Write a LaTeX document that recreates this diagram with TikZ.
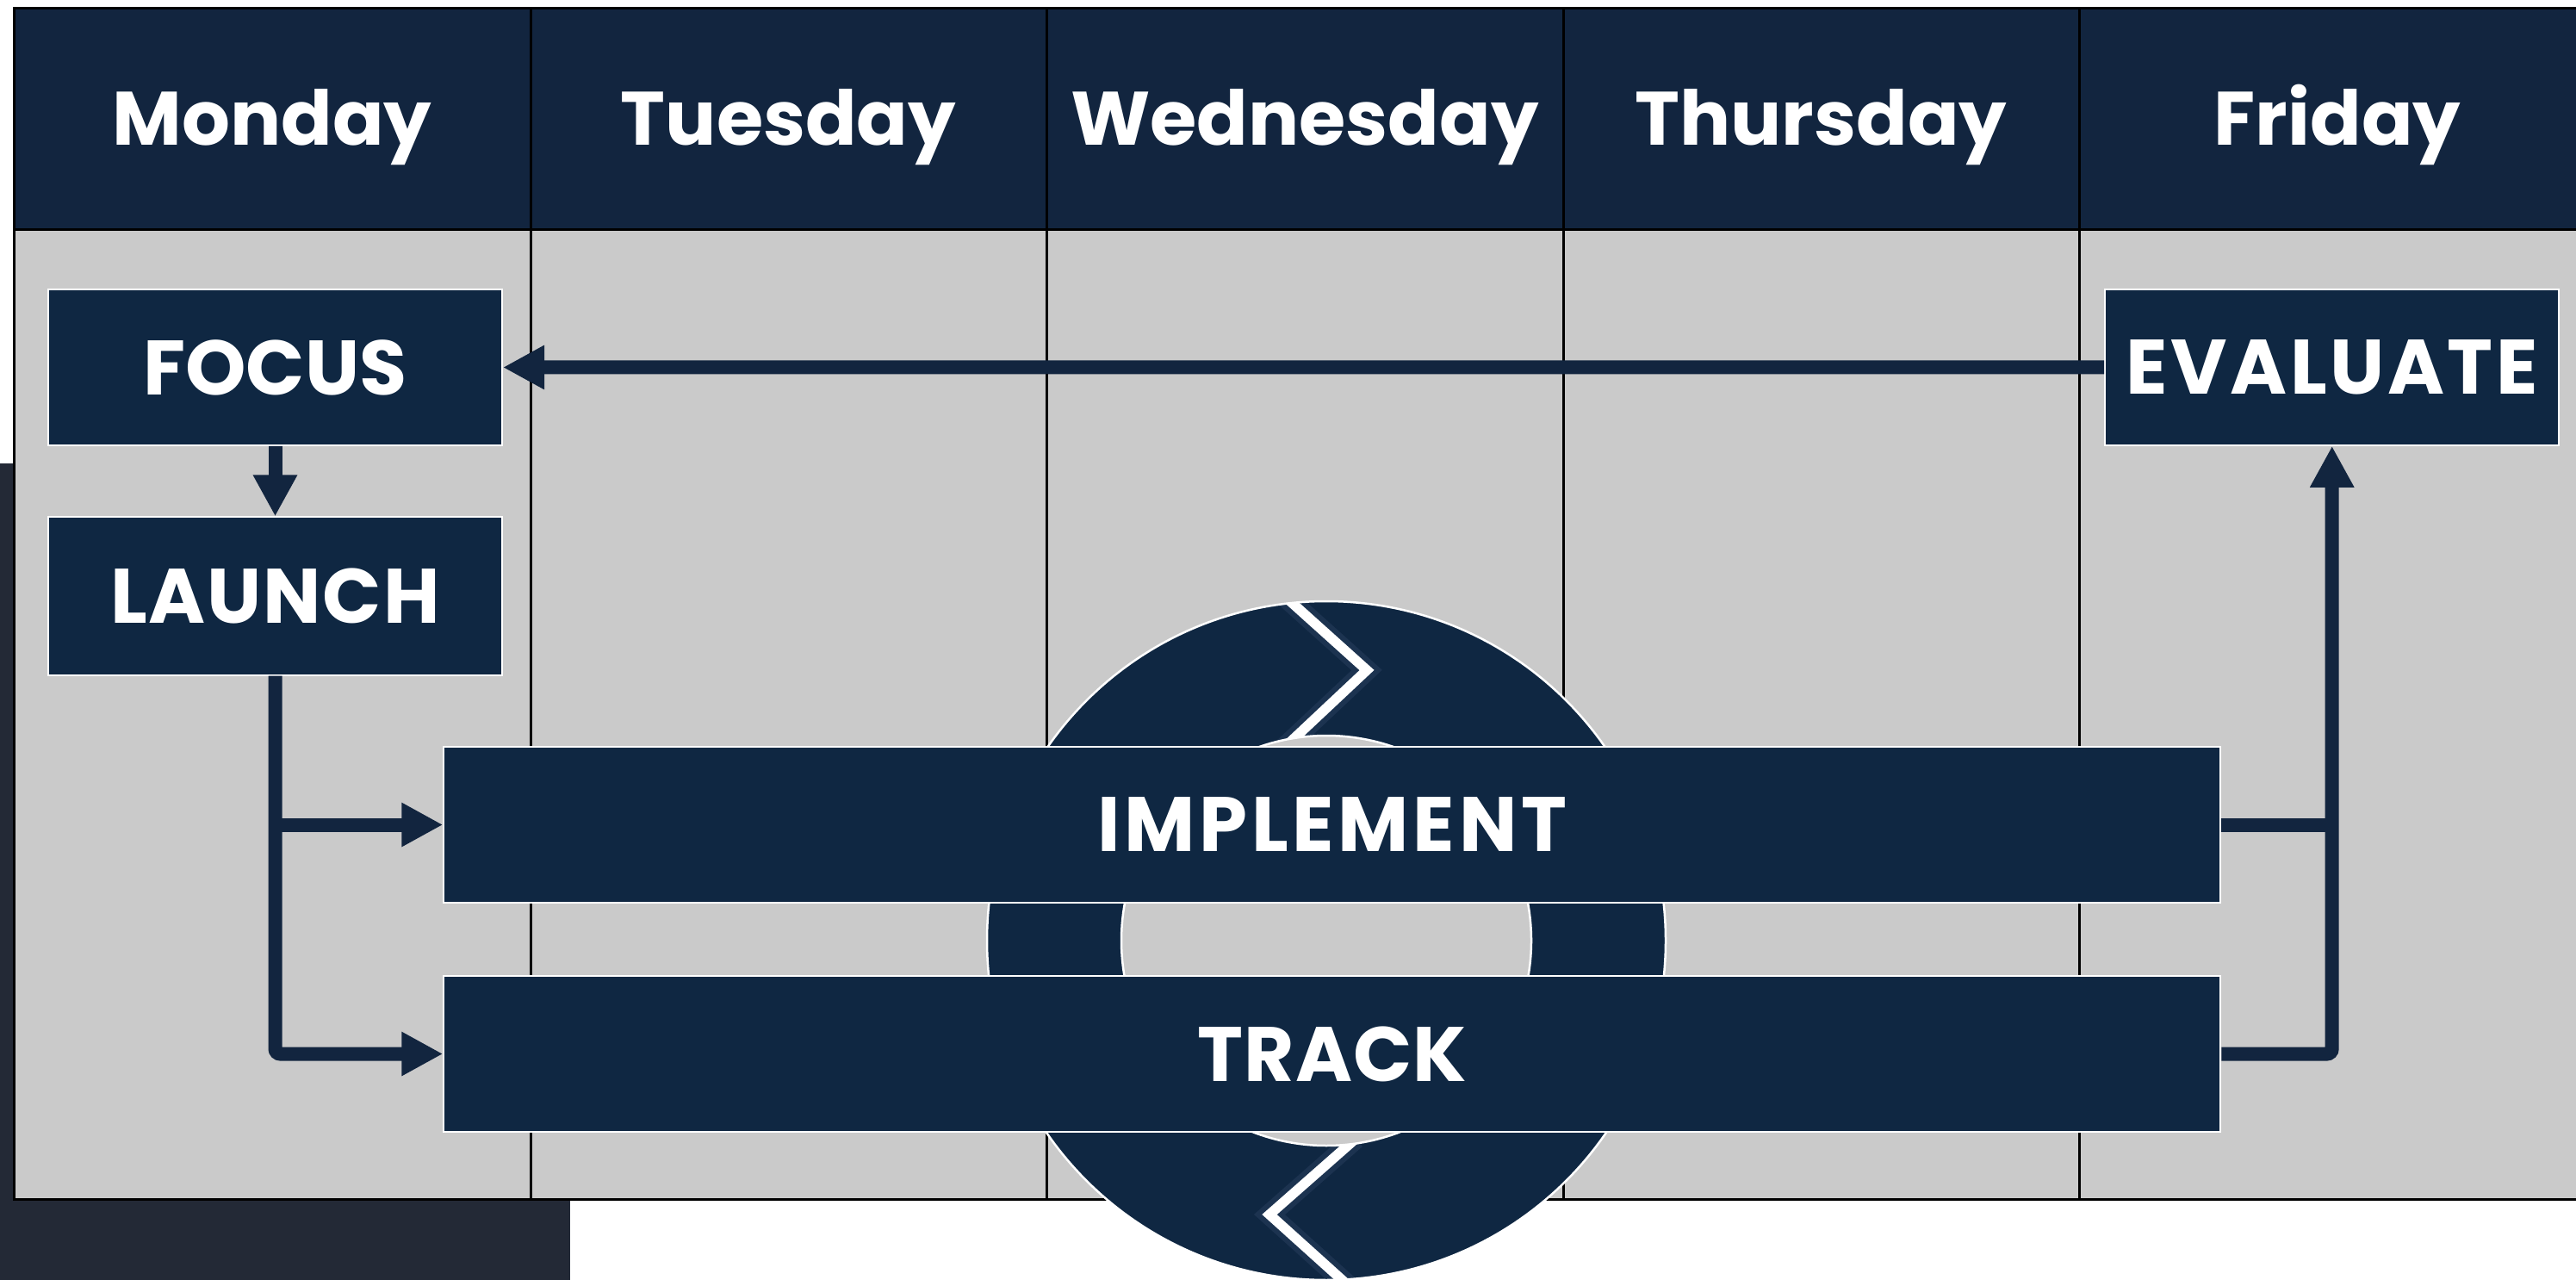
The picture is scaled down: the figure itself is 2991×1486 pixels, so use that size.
\documentclass[tikz,border=0pt]{standalone}
\usepackage{fontspec}
\setmainfont{Poppins}
\usetikzlibrary{arrows.meta}
\definecolor{hdr}{HTML}{12253F}
\definecolor{navy}{HTML}{0F2742}
\definecolor{gridgray}{HTML}{CACACA}
\definecolor{slate}{HTML}{232936}
\definecolor{halo}{HTML}{1C3350}
\tikzset{
  daylabel/.style={text=white, anchor=base, inner sep=0pt, font=\bfseries\fontsize{25}{30}\selectfont},
  stepbox/.style={draw=white, line width=0.2mm, fill=navy, text=white, inner sep=0pt,
    minimum width=52.7mm, minimum height=18.1mm, font=\bfseries\fontsize{25.5}{30}\selectfont},
  widebox/.style={stepbox, minimum width=206.3mm},
  conn/.style={draw=hdr, line width=1.6mm, rounded corners=0.6mm},
  tip/.style={-{Triangle[length=4.8mm,width=4.8mm]}},
  tline/.style={black, line width=0.3mm}
}
\newcommand{\spaced}[2]{{\addfontfeature{LetterSpace=#1}#2}}
\begin{document}
\begin{tikzpicture}[x=0.1mm, y=-0.1mm]
\useasboundingbox (0,0) rectangle (2991,1486);
% background shape
\fill[slate] (0,538) rectangle (662,1486);
% table
\fill[gridgray] (16,267) rectangle (3014,1392);
\fill[hdr] (16,10) rectangle (3014,267);
\draw[tline] (16,10) rectangle (3014,1392);
\draw[tline] (16,267) -- (3014,267);
\foreach \cx in {616,1215,1815,2414} \draw[tline] (\cx,10) -- (\cx,1392);
% day labels
\node[daylabel] (mon) at (316,169) {Monday};
\node[daylabel] (tue) at (915.5,169) {Tuesday};
\node[daylabel] (wed) at (1515,169) {Wednesday};
\node[daylabel] (thu) at (2114.5,169) {Thursday};
\node[daylabel] (fri) at (2714,169) {Friday};
% cycle ring
\fill[navy] (1540,1092) circle[radius=39.4mm];
\begin{scope}
  \clip (1540,1092) circle[radius=39.4mm];
  \draw[halo, line width=2.4mm, miter limit=10] (1488,689) -- (1587,778) -- (1489,870);
  \draw[white, line width=1.15mm, miter limit=10] (1488,689) -- (1587,778) -- (1489,870);
  \draw[halo, line width=2.4mm, miter limit=10] (1574,1322) -- (1474,1410) -- (1575,1501);
  \draw[white, line width=1.15mm, miter limit=10] (1574,1322) -- (1474,1410) -- (1575,1501);
\end{scope}
\fill[gridgray] (1540,1092) circle[radius=23.8mm];
\draw[white, line width=0.25mm] (1540,1092) circle[radius=23.8mm];
\draw[white, line width=0.25mm] (1540,1092) circle[radius=39.4mm];
% boxes
\node[stepbox] (focus) at (319.5,426.5) {FOCUS};
\node[stepbox, minimum height=18.3mm] (launch) at (319.5,692) {\spaced{2}{LAUNCH}};
\node[stepbox] (evaluate) at (2707.7,426.3) {\spaced{4}{EVALUATE}};
\node[widebox] (implement) at (1546.8,957.5) {\spaced{5.3}{IMPLEMENT}};
\node[widebox] (track) at (1546.8,1223.5) {\spaced{1}{TRACK}};
% connectors
\draw[conn, tip] (evaluate.west) -- (focus.east);
\draw[conn, tip] (focus.south) -- (launch.north);
\draw[conn, tip] (launch.south) |- (track.west);
\draw[conn, tip] (launch.south |- implement.west) -- (implement.west);
\draw[conn, tip] (track.east) -| (evaluate.south);
\draw[conn] (implement.east) -- (evaluate.south |- implement.east);
\end{tikzpicture}
\end{document}
